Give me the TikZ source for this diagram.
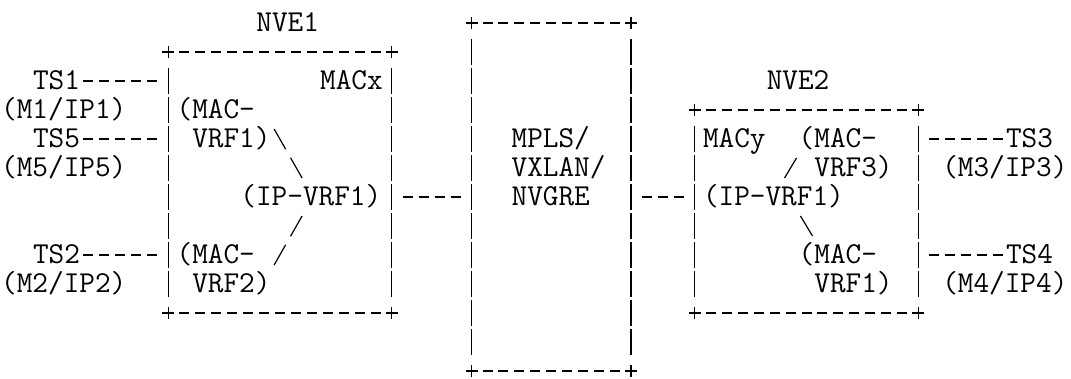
\documentclass[tikz,border=0pt]{standalone}
\usepackage{fontspec}
\usetikzlibrary{calc}

\tikzset{
  txt/.style={font=\ttfamily\fontsize{30.38pt}{29pt}\selectfont, inner sep=0pt,
    text height=18pt, text depth=0pt, anchor=west},
  txt2/.style={txt, align=left},
  frame/.style={inner sep=0pt, outer sep=0pt},
  hedge/.style={line width=1.2pt, dash pattern=on 10pt off 5.95pt, shorten <=11pt, shorten >=11pt},
  vedge/.style={line width=1.2pt, dash pattern=on 26pt off 3pt, shorten <=16pt, shorten >=16pt},
  plus/.style={line width=1.2pt},
  wire/.style={line width=1.2pt, dash pattern=on 10pt off 5.95pt, shorten <=3pt, shorten >=11pt},
  link/.style={line width=1.2pt, dash pattern=on 23.3pt off 9.8pt}
}

\begin{document}
\begin{tikzpicture}[x=15.95pt, y=-29pt]
\useasboundingbox[fill=white] (-1pt,23pt) rectangle (1070pt,-356pt);

% the three boxes
\node[frame, minimum width=223.3pt, minimum height=261pt] (E1) at (17.5,5.5) {};
\node[frame, minimum width=159.5pt, minimum height=348pt] (C) at (34.5,6) {};
\node[frame, minimum width=223.3pt, minimum height=203pt] (E2) at (50.5,6.5) {};

\foreach \b in {E1,C,E2}{
  \draw[hedge] (\b.north west) -- (\b.north east);
  \draw[hedge] (\b.south west) -- (\b.south east);
  \draw[vedge] (\b.north west) -- (\b.south west);
  \draw[vedge] (\b.north east) -- (\b.south east);
  \foreach \a in {north west,north east,south west,south east}
    \draw[plus] (\b.\a) +(-6pt,0) -- +(6pt,0) (\b.\a) +(0,-6pt) -- +(0,6pt);
}

% labels (multi-line ones sit on their last line)
\node[txt] (NVE1) at (16,0) {NVE1};
\node[txt] (NVE2) at (48,2) {NVE2};
\node[txt] (TS1) at (2,2) {TS1};
\node[txt] (M1) at (0,3) {(M1/IP1)};
\node[txt] (TS5) at (2,4) {TS5};
\node[txt] (M5) at (0,5) {(M5/IP5)};
\node[txt] (TS2) at (2,8) {TS2};
\node[txt] (M2) at (0,9) {(M2/IP2)};
\node[txt] (MACx) at (20,2) {MACx};
\node[txt2] (MV1) at (11,4) {(MAC-\\\hphantom{(}VRF1)};
\node[txt] (IV1) at (15,6) {(IP-VRF1)};
\node[txt2] (MV2) at (11,9) {(MAC-\\\hphantom{(}VRF2)};
\node[txt2] (NET) at (32,6) {MPLS/\\VXLAN/\\NVGRE};
\node[txt] (MACy) at (44,4) {MACy};
\node[txt2] (MV3) at (50,5) {(MAC-\\\hphantom{(}VRF3)};
\node[txt] (IV2) at (44,6) {(IP-VRF1)};
\node[txt2] (MV4) at (50,9) {(MAC-\\\hphantom{(}VRF1)};
\node[txt] (TS3) at (63,4) {TS3};
\node[txt] (M3) at (59,5) {(M3/IP3)};
\node[txt] (TS4) at (63,8) {TS4};
\node[txt] (M4) at (59,9) {(M4/IP4)};

% attachments
\draw[wire] (TS1.east) -- (TS1.east -| E1.west);
\draw[wire] (TS5.east) -- (TS5.east -| E1.west);
\draw[wire] (TS2.east) -- (TS2.east -| E1.west);
\draw[wire] (TS3.west) -- (TS3.west -| E2.east);
\draw[wire] (TS4.west) -- (TS4.west -| E2.east);
\draw[hedge] (E1.east |- IV1.east) -- (C.west |- IV1.east);
\draw[hedge] (C.east |- IV2.west) -- (E2.west |- IV2.west);

% links inside the NVEs
\coordinate (L1a) at ($(17.5,4)+(-6pt,10pt)$);
\coordinate (L1b) at ($(18.5,5)+(6pt,-10pt)$);
\coordinate (L2a) at ($(18.5,7)+(6pt,10pt)$);
\coordinate (L2b) at ($(17.5,8)+(-6pt,-10pt)$);
\coordinate (L3a) at ($(49.5,5)+(6pt,10pt)$);
\coordinate (L3b) at ($(49.5,5)+(-6pt,-10pt)$);
\coordinate (L4a) at ($(50.5,7)+(-6pt,10pt)$);
\coordinate (L4b) at ($(50.5,7)+(6pt,-10pt)$);
\draw[link] (L1a) -- (L1b);
\draw[link] (L2a) -- (L2b);
\draw[plus] (L3a) -- (L3b);
\draw[plus] (L4a) -- (L4b);

\end{tikzpicture}
\end{document}
